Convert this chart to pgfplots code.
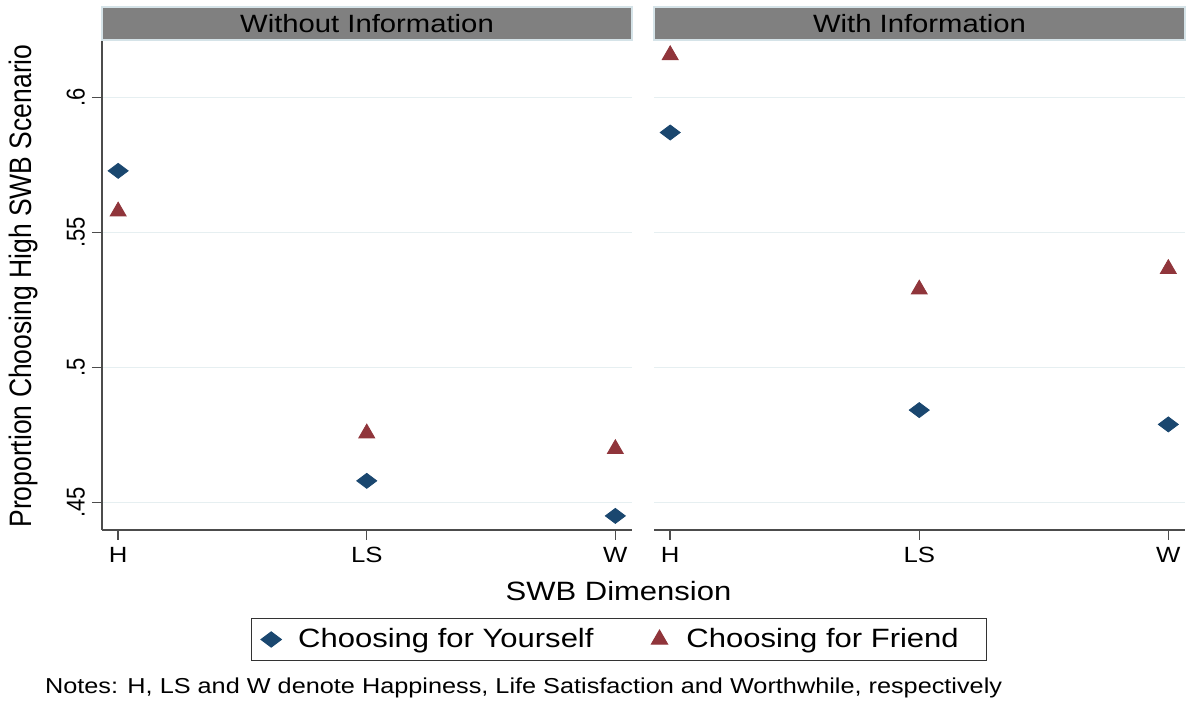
\documentclass[border=0pt]{standalone}
\usepackage{pgfplots}
\pgfplotsset{compat=1.18}
\usepackage{fontspec}
\usepackage{graphicx}
\setmainfont{Liberation Sans}[FakeStretch=1.17]
\newfontfamily\plainsans{Liberation Sans}
\definecolor{navy}{HTML}{1A476F}
\definecolor{maroon}{HTML}{90353B}
\definecolor{hdr}{HTML}{808080}
\definecolor{hdrborder}{HTML}{D5E3E8}
\definecolor{gridc}{HTML}{E6EFF1}

\pgfplotstableread{
x y
1 0.5729
2 0.4581
3 0.4451
}\leftyours
\pgfplotstableread{
x y
1 0.5579
2 0.4757
3 0.4699
}\leftfriend
\pgfplotstableread{
x y
1 0.5871
2 0.4843
3 0.4790
}\rightyours
\pgfplotstableread{
x y
1 0.6158
2 0.5290
3 0.5366
}\rightfriend

\tikzset{hdrtext/.style={font=\fontsize{12.5}{14}\selectfont, text=black}}

\begin{document}
\begin{tikzpicture}
\path[use as bounding box] (0,0) rectangle (594.5pt,352pt);
\pgfplotsset{
  panel/.style={
    scale only axis, height=245pt,
    xmin=0.935, xmax=3.067, ymin=0.43989, ymax=0.62137,
    xtick={1,2,3}, xticklabels={H,LS,W},
    ytick={0.45,0.5,0.55,0.6},
    axis x line*=bottom, axis y line*=left,
    ymajorgrids, major grid style={gridc, line width=0.8pt},
    tick align=outside, major tick length=5pt,
    every tick/.style={black!70, line width=0.7pt},
    axis line style={black!70, line width=0.8pt},
    xticklabel style={font=\fontsize{11}{13}\selectfont},
    clip=false,
  },
  yours/.style={only marks, mark=diamond*, mark size=5pt, mark options={rotate=90, fill=navy, draw=navy}},
  friend/.style={only marks, mark=triangle*, mark size=4.6pt, mark options={fill=maroon, draw=maroon}},
}
\begin{axis}[panel, at={(51pt,87pt)}, anchor=south west, width=265pt,
  yticklabels={{\scalebox{1}[1.17]{.45}},{\scalebox{1}[1.17]{.5}},{\scalebox{1}[1.17]{.55}},{\scalebox{1}[1.17]{.6}}},
  yticklabel style={rotate=90, anchor=south, font=\plainsans\fontsize{11}{13}\selectfont},
  legend style={at={(0.97547,-0.22347)}, anchor=center, draw=black!80, line width=0.6pt,
    inner xsep=5pt, inner ysep=5pt, column sep=0pt,
    nodes={inner sep=0pt, font=\fontsize{13.25}{15}\selectfont}},
  legend columns=2,
  legend image code/.code={\draw[#1] plot coordinates {(0pt,0pt)};},
]
\addplot[yours] table[x=x,y=y] {\leftyours};
\addlegendentry{\hspace*{8.5pt}Choosing for Yourself\hspace*{29pt}}
\addplot[friend] table[x=x,y=y] {\leftfriend};
\addlegendentry{\hspace*{9.5pt}Choosing for Friend\hspace*{9pt}}
\draw[hdrborder, fill=hdr, line width=0.6pt] (rel axis cs:0,1) rectangle ([yshift=16.5pt]rel axis cs:1,1);
\node[hdrtext] at ([yshift=8.25pt]rel axis cs:0.5,1) {Without Information};
\end{axis}
\begin{axis}[panel, at={(327pt,87pt)}, anchor=south west, width=265.5pt,
  yticklabels={}, y axis line style={draw=none}, ytick style={draw=none},
]
\addplot[yours] table[x=x,y=y] {\rightyours};
\addplot[friend] table[x=x,y=y] {\rightfriend};
\draw[hdrborder, fill=hdr, line width=0.6pt] (rel axis cs:0,1) rectangle ([yshift=16.5pt]rel axis cs:1,1);
\node[hdrtext] at ([yshift=8.25pt]rel axis cs:0.5,1) {With Information};
\end{axis}
\node[rotate=90, font=\plainsans\fontsize{13.25}{15}\selectfont] at (11.5pt,209pt) {\scalebox{1}[1.17]{Proportion Choosing High SWB Scenario}};
\node[font=\fontsize{13.25}{15}\selectfont] at (309.25pt,56.5pt) {SWB Dimension};
\node[anchor=west, font=\fontsize{10.8}{13}\selectfont] at (19pt,8pt) {Notes: H, LS and W denote Happiness, Life Satisfaction and Worthwhile, respectively};
\end{tikzpicture}
\end{document}
